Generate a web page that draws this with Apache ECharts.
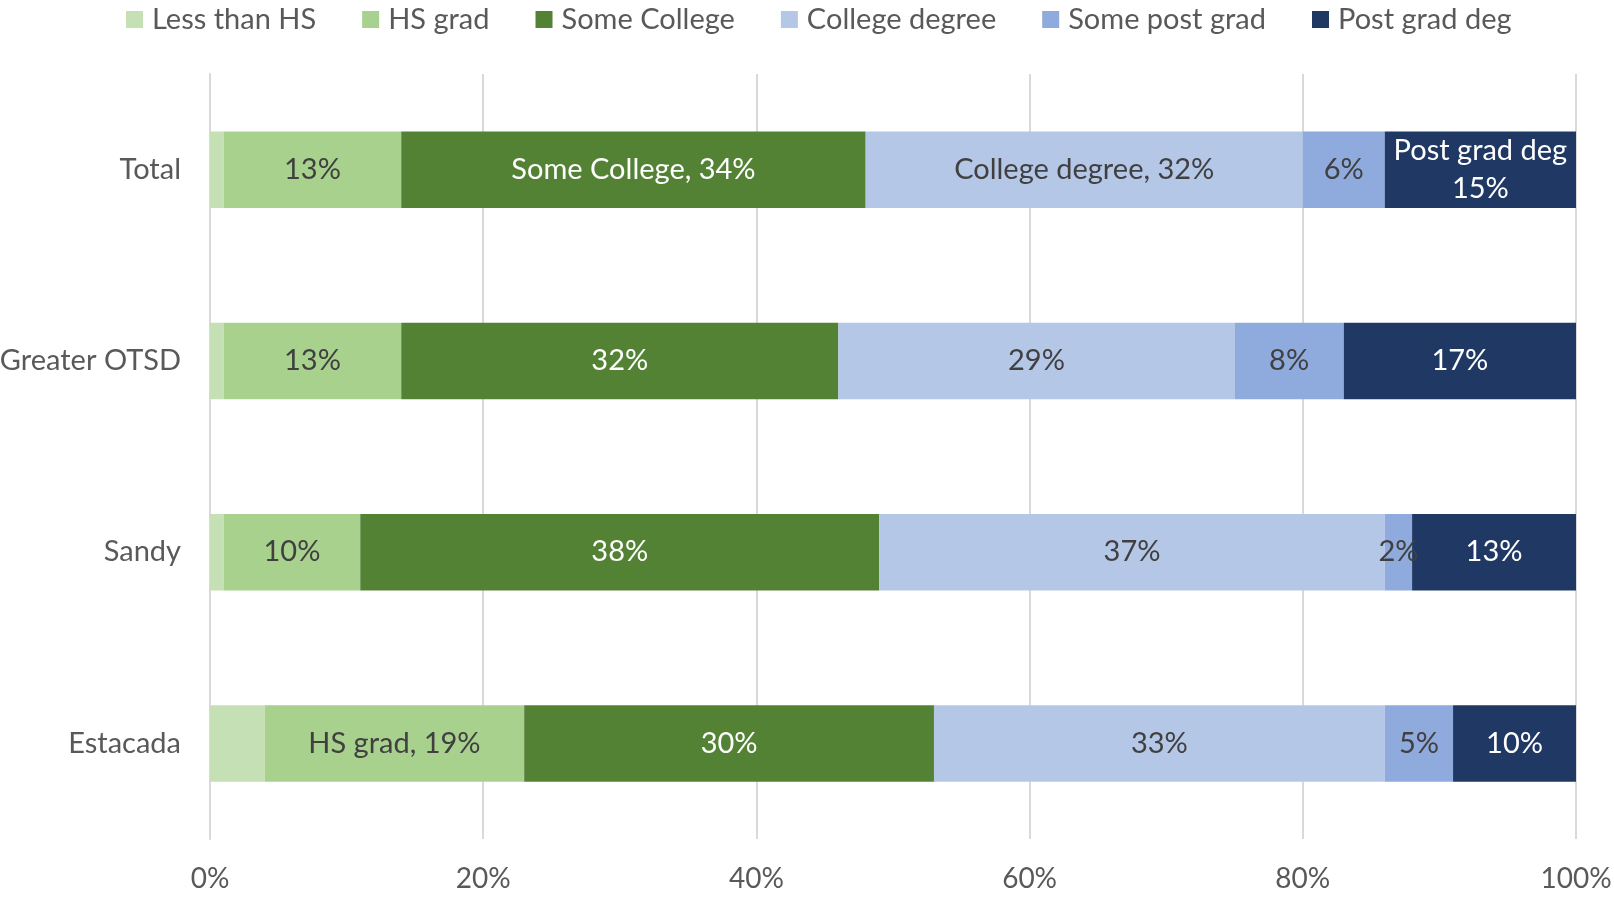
<!DOCTYPE html>
<html>
<head>
<meta charset="utf-8">
<script src="https://cdn.jsdelivr.net/npm/echarts@6/dist/echarts.min.js"></script>
<style>html,body{margin:0;padding:0;background:#fff}#c{width:1614px;height:897px}</style>
</head>
<body>
<div id="c"></div>
<script>
const categories = ['Total', 'Greater OTSD', 'Sandy', 'Estacada'];
const seriesNames = ['Less than HS', 'HS grad', 'Some College', 'College degree', 'Some post grad', 'Post grad deg'];
const lessThanHS = [1, 1, 1, 4];
const hsGrad = [13, 13, 10, 19];
const someCollege = [34, 32, 38, 30];
const collegeDegree = [32, 29, 37, 33];
const somePostGrad = [6, 8, 2, 5];
const postGradDeg = [15, 17, 13, 10];
const xTicks = [0, 20, 40, 60, 80, 100];
// labels that include the series name: [series index, category index, separator]
const namedLabels = [[1, 3, ', '], [2, 0, ', '], [3, 0, ', '], [5, 0, '\n']];

const colors = ['#c5e0b4', '#a9d18e', '#548235', '#b4c7e7', '#8faadc', '#203864'];
const labelColors = [null, '#404040', '#ffffff', '#404040', '#404040', '#ffffff'];
const allData = [lessThanHS, hsGrad, someCollege, collegeDegree, somePostGrad, postGradDeg];
const FONT = 'Lato';

const series = allData.map((d, si) => ({
  name: seriesNames[si],
  type: 'bar',
  stack: 'all',
  barWidth: '40%',
  data: d,
  itemStyle: { color: colors[si] },
  label: {
    show: si !== 0,
    position: 'inside',
    color: labelColors[si] || '#404040',
    fontFamily: FONT,
    fontSize: 29,
    lineHeight: 38,
    formatter: p => {
      const n = namedLabels.find(x => x[0] === si && x[1] === p.dataIndex);
      return n ? p.seriesName + n[2] + p.value + '%' : p.value + '%';
    }
  }
}));

const chart = echarts.init(document.getElementById('c'));
chart.setOption({
  animation: false,
  color: colors,
  legend: {
    top: 0,
    left: 121,
    itemWidth: 17,
    itemHeight: 17,
    itemGap: 46,
    icon: 'rect',
    textStyle: { fontFamily: FONT, fontSize: 29, color: '#595959', padding: [0, 0, 0, 4] },
    data: seriesNames
  },
  grid: { left: 210, right: 38, top: 74, bottom: 58, containLabel: false, outerBoundsMode: 'none' },
  xAxis: {
    type: 'value',
    min: 0,
    max: 100,
    interval: 20,
    axisLine: { show: false },
    axisTick: { show: false },
    splitLine: { lineStyle: { color: '#d9d9d9', width: 2 } },
    axisLabel: {
      fontFamily: FONT, fontSize: 28, color: '#595959', margin: 26,
      formatter: v => xTicks.includes(v) ? v + '%' : ''
    }
  },
  yAxis: {
    type: 'category',
    inverse: true,
    data: categories,
    axisLine: { show: true, lineStyle: { color: '#d9d9d9', width: 2 } },
    axisTick: { show: false },
    axisLabel: { fontFamily: FONT, fontSize: 29, color: '#595959', margin: 29 }
  },
  series: series
});
</script>
</body>
</html>
